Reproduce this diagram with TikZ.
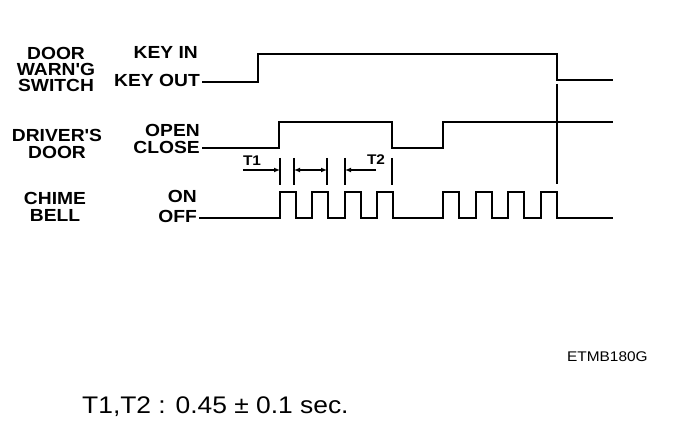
\documentclass[tikz,border=0pt]{standalone}
\usepackage{fontspec}
\setmainfont{Liberation Sans}
\newfontfamily\widesans[FakeStretch=1.1]{Liberation Sans}
\usetikzlibrary{
  arrows.meta,
  positioning
}
\tikzset{
  wave/.style={line width=2pt, line join=miter},
  tickline/.style={line width=1.6pt},
  dimarrow/.style={line width=1.4pt, -{Latex[length=6pt,width=5pt]}},
  signame/.style={
    font=\widesans\bfseries\fontsize{17.5}{16.3}\selectfont,
    align=center,
    inner sep=0pt
  },
  level/.style={
    font=\widesans\bfseries\fontsize{17.5}{17.5}\selectfont,
    anchor=east,
    inner sep=0pt
  },
  tlabel/.style={font=\widesans\bfseries\fontsize{14}{14}\selectfont, inner sep=0pt},
  note/.style={font=\widesans\fontsize{24}{24}\selectfont, anchor=west, inner sep=0pt},
  figid/.style={font=\widesans\fontsize{14}{14}\selectfont, anchor=west, inner sep=0pt}
}

\begin{document}
\begin{tikzpicture}[x=1pt, y=-1pt]
  \useasboundingbox (0,0) rectangle (688,446);

  % signal names
  \node[signame] (doorsw) at (56,69.5) {DOOR\\WARN'G\\SWITCH};
  \node[signame] (drvdoor) at (57,144) {DRIVER'S\\DOOR};
  \node[signame] (chime) at (55,207) {CHIME\\BELL};

  % levels
  \node[level] (keyin) at (198,52) {KEY IN};
  \node[level] (keyout) at (200,80) {KEY OUT};
  \node[level] (open) at (200,130) {OPEN};
  \node[level] (close) at (200,147.5) {CLOSE};
  \node[level] (on) at (197,196) {ON};
  \node[level] (off) at (197,216) {OFF};

  % waveforms
  \draw[wave] (202,82) -- (258,82) -- (258,54) -- (557,54) -- (557,80) -- (613,80);
  \draw[wave] (202,148) -- (279,148) -- (279,122) -- (392,122) -- (392,148)
    -- (443,148) -- (443,122) -- (613,122);
  \draw[wave] (199,218) -- (280,218)
    foreach \x in {280,312,345,377} { -- (\x,218) -- (\x,192) -- (\x+16,192) -- (\x+16,218) }
    -- (443,218)
    foreach \x in {443,476,508,541} { -- (\x,218) -- (\x,192) -- (\x+16,192) -- (\x+16,218) }
    -- (613,218);
  \draw[wave] (557,84) -- (557,184);

  % timing marks
  \foreach \x [count=\i] in {280,294,327,345,392} {
    \draw[tickline] (\x,158) -- (\x,185);
    \coordinate (tk\i) at (\x,170);
  }
  \node[tlabel] (t1) at (252,161) {T1};
  \node[tlabel] (t2) at (376,160) {T2};
  \draw[dimarrow] (t1.south west |- tk1) -- (tk1);
  \draw[dimarrow, {Latex[length=6pt,width=5pt]}-{Latex[length=6pt,width=5pt]}] (tk2) -- (tk3);
  \draw[dimarrow] (t2.south |- tk4) -- (tk4);

  \node[figid] (figid) at (567,357) {ETMB180G};
  \node[note] (spec) at (82,407) {T1,T2 : 0.45 ± 0.1 sec.};
\end{tikzpicture}
\end{document}
